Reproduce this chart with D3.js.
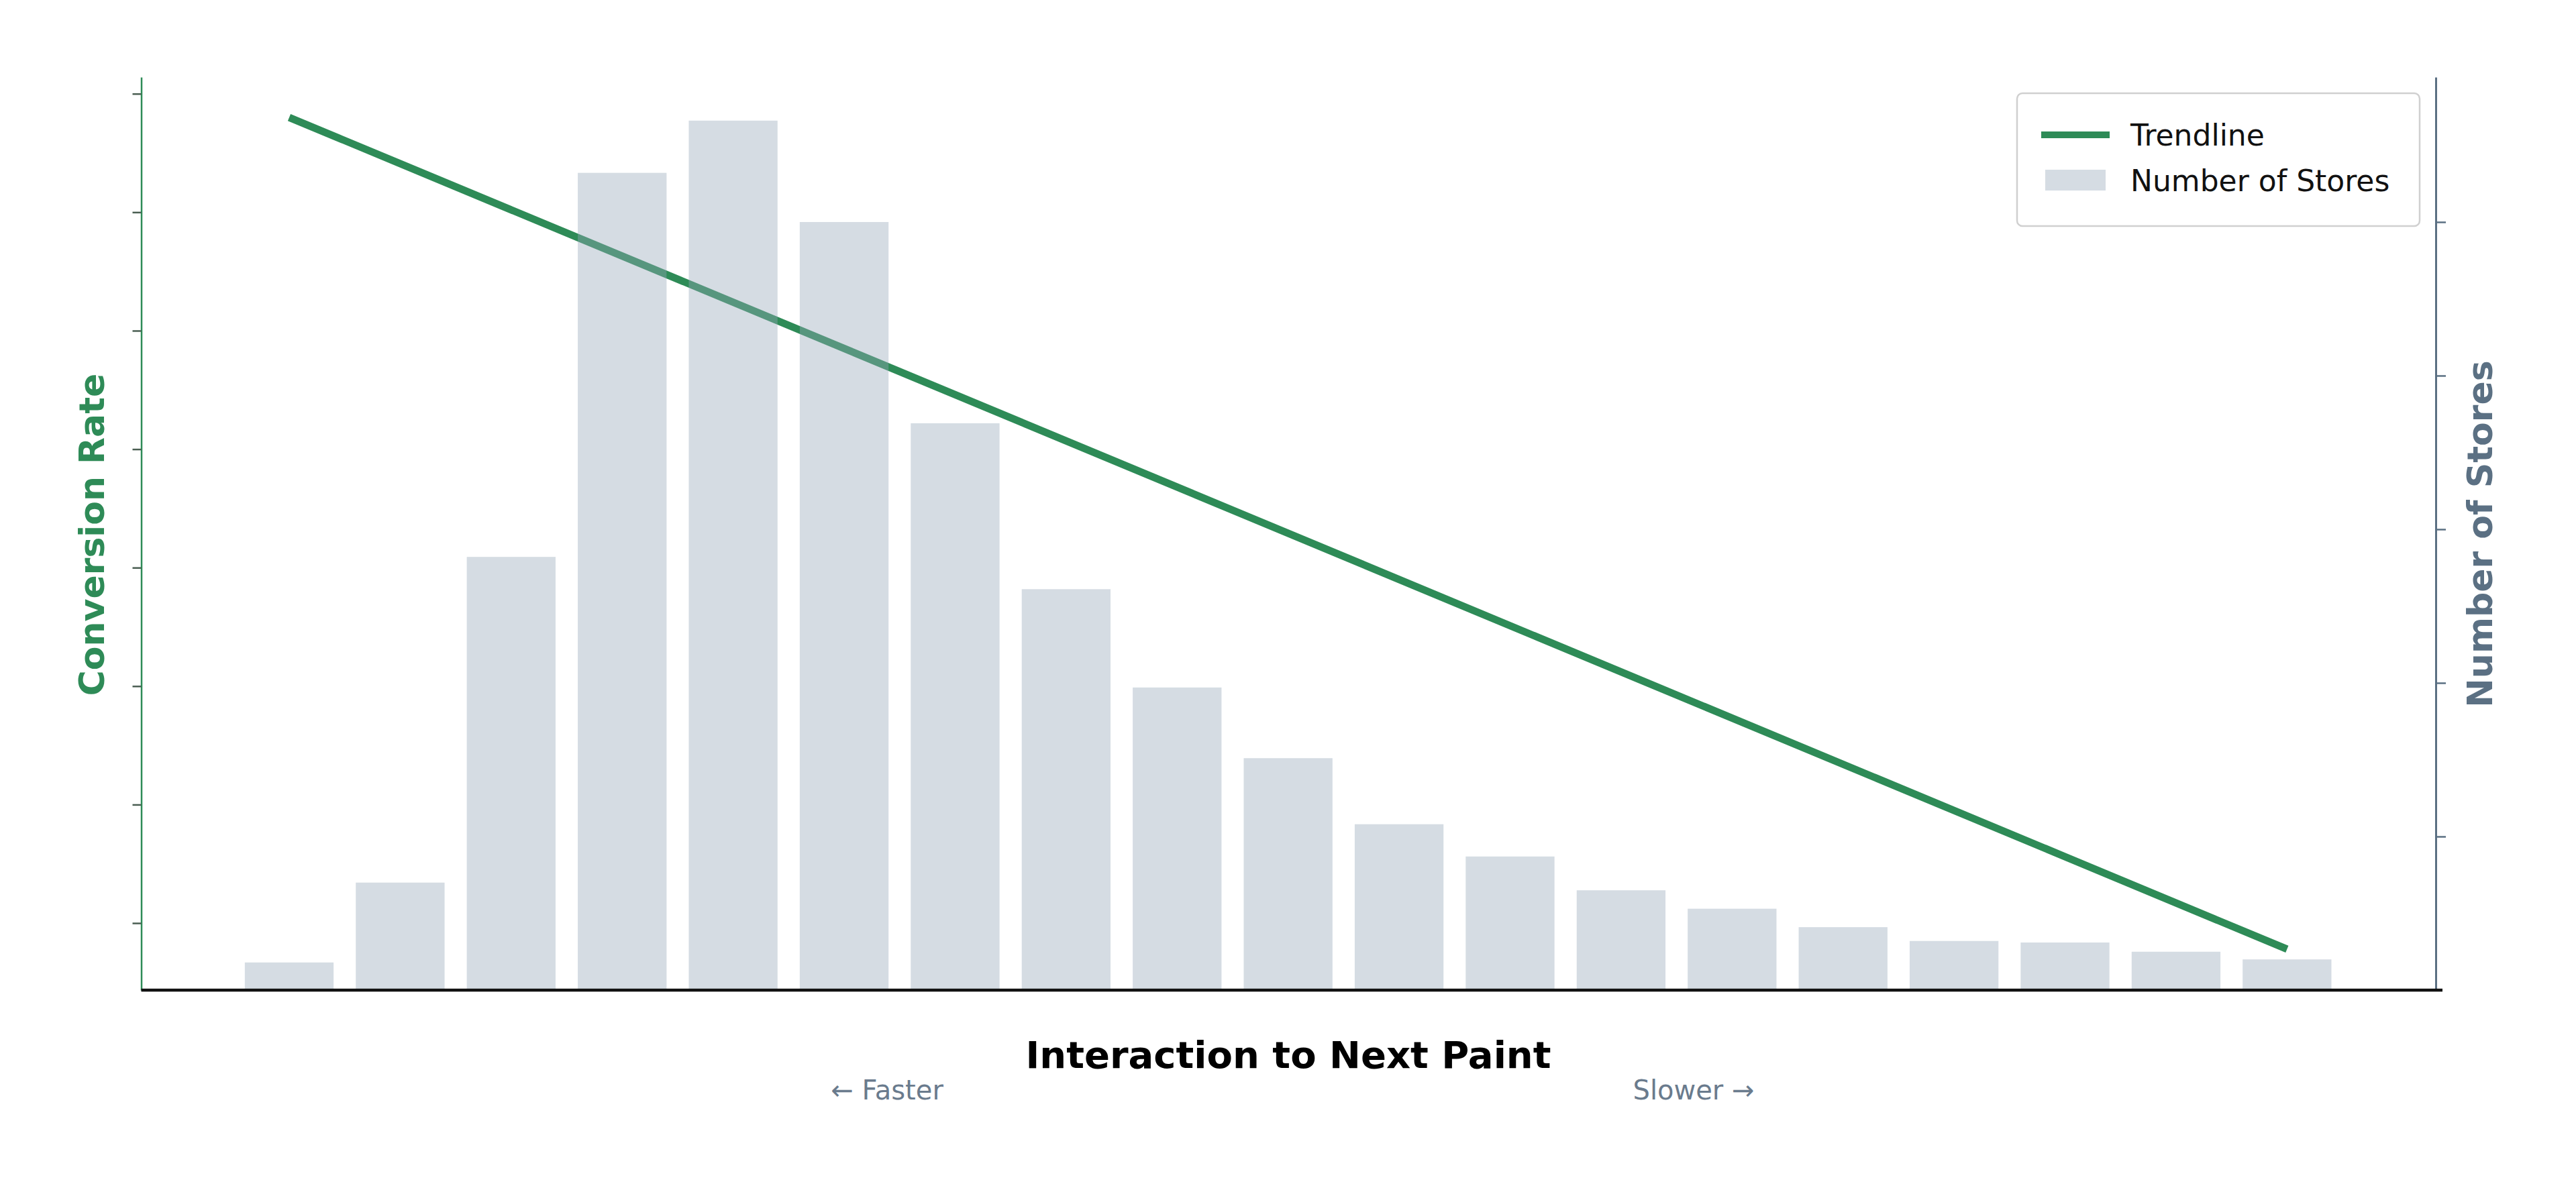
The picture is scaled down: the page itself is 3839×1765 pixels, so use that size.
<!DOCTYPE html>
<html>
<head>
<meta charset="utf-8">
<script src="https://cdn.jsdelivr.net/npm/d3@7"></script>
<style>
  html, body { margin: 0; padding: 0; background: #fff; }
  svg { display: block; font-family: 'DejaVu Sans', sans-serif; }
</style>
</head>
<body>
<div id="chart"></div>
<script>
// ── Data ───────────────────────────────────────────────
const bins = d3.range(19);                       // INP buckets, fast → slow
const stores = [18, 70, 282, 532, 566, 500, 369, 261, 197, 151, 108, 87, 65, 53, 41, 32, 31, 25, 20];
const trendX = [0, 18];
const trendY = [4.40, 0.89];                     // conversion rate at the ends of the fit
const rateTicks = [1.0, 1.5, 2.0, 2.5, 3.0, 3.5, 4.0, 4.5];
const storeTicks = [100, 200, 300, 400, 500];

const WIDTH = 3839, HEIGHT = 1765;
const margin = { top: 115, right: 209, bottom: 289, left: 210.5 };
const GREEN = '#2e8b57', SLATE = '#5b7083';

const svg = d3.select('#chart').append('svg')
  .attr('width', WIDTH)
  .attr('height', HEIGHT);

const W = WIDTH - margin.left - margin.right;
const H = HEIGHT - margin.top - margin.bottom;
const g = svg.append('g').attr('transform', `translate(${margin.left},${margin.top})`);

// ── Scales ─────────────────────────────────────────────
const x = d3.scaleLinear().domain([-1.333, 19.34]).range([0, W]);
const yRate = d3.scaleLinear().domain([0.717, 4.570]).range([H, 0]);
const yStores = d3.scaleLinear().domain([0, 594.3]).range([H, 0]);
const barW = x(0.8) - x(0);

// ── Trendline (under the translucent bars) ─────────────
g.append('path')
  .datum(trendX.map((d, i) => [d, trendY[i]]))
  .attr('fill', 'none')
  .attr('stroke', GREEN)
  .attr('stroke-width', 11)
  .attr('d', d3.line().x(d => x(d[0])).y(d => yRate(d[1])));

// ── Bars ───────────────────────────────────────────────
g.selectAll('.bar')
  .data(bins)
  .join('rect')
  .attr('class', 'bar')
  .attr('x', d => x(d) - barW / 2)
  .attr('width', barW)
  .attr('y', d => yStores(stores[d]))
  .attr('height', d => H - yStores(stores[d]))
  .attr('fill', '#97a8b8')
  .attr('fill-opacity', 0.4);

// ── Axes ───────────────────────────────────────────────
g.append('g')
  .call(d3.axisLeft(yRate).tickValues(rateTicks).tickSize(13).tickSizeOuter(0).tickFormat(''))
  .call(a => a.select('.domain').attr('stroke', GREEN).attr('stroke-width', 2.5))
  .call(a => a.selectAll('.tick line').attr('stroke', '#4a5e52').attr('stroke-width', 2.5));

g.append('g')
  .attr('transform', `translate(${W},0)`)
  .call(d3.axisRight(yStores).tickValues(storeTicks).tickSize(15).tickSizeOuter(0).tickFormat(''))
  .call(a => a.select('.domain').attr('stroke', SLATE).attr('stroke-width', 3))
  .call(a => a.selectAll('.tick line').attr('stroke', SLATE).attr('stroke-width', 2.5));

g.append('line')
  .attr('x1', 0).attr('x2', W + 10)
  .attr('y1', H).attr('y2', H)
  .attr('stroke', '#111')
  .attr('stroke-width', 4.5);

// ── Axis labels ────────────────────────────────────────
svg.append('text')
  .attr('transform', 'translate(136,797) rotate(-90)')
  .attr('text-anchor', 'middle').attr('dy', '0.365em')
  .attr('font-size', 52).attr('font-weight', 'bold')
  .attr('fill', GREEN)
  .text('Conversion Rate');

svg.append('text')
  .attr('transform', 'translate(3695,796) rotate(-90)')
  .attr('text-anchor', 'middle').attr('dy', '0.365em')
  .attr('font-size', 52).attr('font-weight', 'bold')
  .attr('fill', SLATE)
  .text('Number of Stores');

svg.append('text')
  .attr('x', 1920).attr('y', 1592)
  .attr('text-anchor', 'middle')
  .attr('font-size', 56).attr('font-weight', 'bold')
  .attr('fill', '#000')
  .text('Interaction to Next Paint');

svg.append('text')
  .attr('x', 1322).attr('y', 1639)
  .attr('text-anchor', 'middle')
  .attr('font-size', 40).attr('fill', '#6a7b8d')
  .text('← Faster');

svg.append('text')
  .attr('x', 2524).attr('y', 1639)
  .attr('text-anchor', 'middle')
  .attr('font-size', 40).attr('fill', '#6a7b8d')
  .text('Slower →');

// ── Legend ─────────────────────────────────────────────
const lg = svg.append('g').attr('transform', 'translate(3006,139)');
lg.append('rect')
  .attr('width', 600).attr('height', 198)
  .attr('rx', 8)
  .attr('fill', '#fff')
  .attr('stroke', '#d0d0d0')
  .attr('stroke-width', 2.5);
lg.append('line')
  .attr('x1', 36).attr('x2', 138)
  .attr('y1', 62).attr('y2', 62)
  .attr('stroke', GREEN).attr('stroke-width', 10);
lg.append('rect')
  .attr('x', 42).attr('y', 114)
  .attr('width', 90).attr('height', 31)
  .attr('fill', '#97a8b8').attr('fill-opacity', 0.4);
lg.append('text')
  .attr('x', 169).attr('y', 78)
  .attr('font-size', 44).attr('fill', '#111')
  .text('Trendline');
lg.append('text')
  .attr('x', 169).attr('y', 146)
  .attr('font-size', 44).attr('fill', '#111')
  .text('Number of Stores');
</script>
</body>
</html>
